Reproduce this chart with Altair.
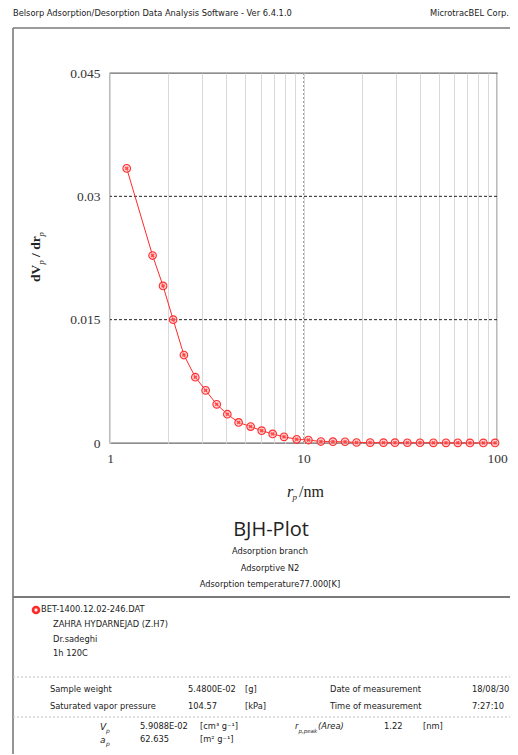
import altair as alt
import pandas as pd

# ---------------- chart values ----------------
pore_radius_nm = [1.22, 1.66, 1.88, 2.12, 2.41, 2.76, 3.12, 3.56, 4.04, 4.62,
                  5.33, 6.08, 6.93, 7.93, 9.22, 10.6, 12.3, 14.2, 16.4, 18.8,
                  22.1, 25.9, 29.7, 34.4, 40.0, 46.9, 54.5, 62.7, 72.5, 85.0, 97.7]
dvp_drp = [0.0334, 0.0228, 0.0191, 0.0150, 0.0107, 0.0080, 0.0064, 0.0047, 0.0035, 0.0025,
           0.0020, 0.0015, 0.0011, 0.00075, 0.00045, 0.00036, 0.00018, 0.00016, 0.00015, 0.00006,
           0.00005, 0.00004, 0.00004, 0.00003, 0.00003, 0.00002, 0.00002, 0.00002, 0.00001, 0.00001, 0.00001]

x_grid_values = [1, 2, 3, 4, 5, 6, 7, 8, 9, 10, 20, 30, 40, 50, 60, 70, 80, 90, 100]
x_label_values = [1, 10, 100]
y_tick_values = [0, 0.015, 0.03, 0.045]
y_dashed_grid = [0.015, 0.03]
x_dotted_grid = [10]

header_left = "Belsorp Adsorption/Desorption Data Analysis Software - Ver 6.4.1.0"
header_right = "MicrotracBEL Corp."
plot_title = "BJH-Plot"
subtitle_lines = ["Adsorption branch", "Adsorptive N2", "Adsorption temperature77.000[K]"]
file_name = "BET-1400.12.02-246.DAT"
comment_lines = ["ZAHRA HYDARNEJAD (Z.H7)", "Dr.sadeghi", "1h 120C"]
row1 = ["Sample weight", "5.4800E-02", "[g]", "Date of measurement", "18/08/30"]
row2 = ["Saturated vapor pressure", "104.57", "[kPa]", "Time of measurement", "7:27:10"]
vp_value, vp_unit = "5.9088E-02", "[cm\u00b3 g\u207b\u00b9]"
ap_value, ap_unit = "62.635", "[m\u00b2 g\u207b\u00b9]"
rpeak_value, rpeak_unit = "1.22", "[nm]"

df = pd.DataFrame({"r": pore_radius_nm, "v": dvp_drp})

# ---------------- layout helpers ----------------
OX, OY = 110, 73          # page position of the plot area's top-left corner
W, H = 387, 370
SVG_W, SVG_H = 502, 746
one = pd.DataFrame({"k": [0]})
SANS = "DejaVu Sans"
SERIF = "Liberation Serif"
SMALL = 8.3
INK = "#222222"


def txt(s, px, py, size=SMALL, font=SANS, align="left", baseline="middle",
        color=INK, style="normal", weight="normal", angle=0):
    return alt.Chart(pd.DataFrame({"t": [s]})).mark_text(
        align=align, baseline=baseline, font=font, fontSize=size,
        fontStyle=style, fontWeight=weight, color=color, angle=angle
    ).encode(text="t:N", x=alt.value(px - OX), y=alt.value(py - OY))


def rule(px1, px2, py1, py2, color="#7a7a7a", width=1.0, dash=None):
    kw = dict(color=color, strokeWidth=width)
    if dash:
        kw["strokeDash"] = dash
    return alt.Chart(one).mark_rule(**kw).encode(
        x=alt.value(px1 - OX), x2=alt.value(px2 - OX),
        y=alt.value(py1 - OY), y2=alt.value(py2 - OY))


xscale = alt.Scale(type="log", domain=[1, 100])
yscale = alt.Scale(domain=[0, 0.045], nice=False, zero=True)

label_expr = " || ".join(f"datum.value == {v}" for v in x_label_values)
x_axis = alt.Axis(values=x_grid_values, labelExpr=f"({label_expr}) ? format(datum.value, 'd') : ''",
                  grid=True, gridColor="#d9d9d9", gridWidth=1, ticks=False, domain=False,
                  labelFont=SERIF, labelFontSize=13.5, labelColor="#333", labelPadding=8,
                  labelFlush=False, labelOverlap=False, title=None)
y_axis = alt.Axis(values=y_tick_values,
                  labelExpr="datum.value == 0 ? '0' : format(datum.value, '.3~f')",
                  grid=False, ticks=False, domain=False,
                  labelFont=SERIF, labelFontSize=13.5, labelColor="#333", labelPadding=10,
                  labelOverlap=False, title=None)
X = alt.X("r:Q", scale=xscale, axis=x_axis)
Y = alt.Y("v:Q", scale=yscale, axis=y_axis)

# ---------------- frame ----------------
frame = [
    rule(13, 13, 28, 760, width=1.6),
    rule(13, 530, 28, 28, width=1.6),
    rule(13, 530, 597, 597, width=2.0),
    rule(13, 530, 677, 677, color="#bdbdbd", width=1, dash=[2, 2]),
    rule(13, 530, 717, 717, color="#bdbdbd", width=1, dash=[2, 2]),
]

# ---------------- plot ----------------
y_grid = alt.Chart(pd.DataFrame({"v": y_dashed_grid})).mark_rule(
    color="#222", strokeWidth=1, strokeDash=[3, 2]
).encode(y=Y)

x_dot = alt.Chart(pd.DataFrame({"r": x_dotted_grid})).mark_rule(
    color="#a0a0a0", strokeWidth=1, strokeDash=[2, 2]
).encode(x=X)

line = alt.Chart(df).mark_line(color="#ff2a2a", strokeWidth=1).encode(x=X, y=Y)
pts = alt.Chart(df).mark_point(
    shape="circle", filled=False, stroke="#ff3030", strokeWidth=1.1,
    fill="#ffb8b8", fillOpacity=0.6, size=58, opacity=1
).encode(x=X, y=Y)
crosses = alt.Chart(df).mark_point(
    shape="cross", filled=True, color="#ff3030", size=16, angle=45, opacity=0.8
).encode(x=X, y=Y)

# axis titles (pieces so that the subscripts can be drawn)
y_title = [
    txt("dV", 40, 282, size=13.5, font=SERIF, weight="bold", baseline="alphabetic", angle=270),
    txt("p", 43.5, 264.5, size=8.5, font=SERIF, style="italic", baseline="alphabetic", angle=270),
    txt("/ dr", 40, 257, size=13.5, font=SERIF, weight="bold", baseline="alphabetic", angle=270),
    txt("p", 43.5, 236.5, size=8.5, font=SERIF, style="italic", baseline="alphabetic", angle=270),
]
x_title = [
    txt("r", 287, 497, size=16, font=SERIF, style="italic", baseline="alphabetic"),
    txt("p", 292.5, 500, size=9, font=SERIF, style="italic", baseline="alphabetic"),
    txt("/nm", 299, 497, size=16, font=SERIF, baseline="alphabetic"),
]

# ---------------- texts ----------------
texts = [
    txt(header_left, 13, 14),
    txt(header_right, 509, 14, align="right"),
    txt(plot_title, 271, 530, size=20, font="Open Sans", align="center"),
    txt(subtitle_lines[0], 270, 552, align="center"),
    txt(subtitle_lines[1], 270, 569, align="center"),
    txt(subtitle_lines[2], 270, 585, align="center"),
    txt(file_name, 41, 610),
    txt(comment_lines[0], 53, 625),
    txt(comment_lines[1], 53, 640),
    txt(comment_lines[2], 53, 654),
]
for py, row in ((690, row1), (707, row2)):
    for px, s in zip((50, 188, 245, 330, 472), row):
        texts.append(txt(s, px, py))

R3, R4 = 727, 740
texts += [
    txt("V", 100, R3, style="italic", size=9),
    txt("p", 106, R3 + 4, style="italic", size=6),
    txt(vp_value, 140, R3),
    txt(vp_unit, 200, R3),
    txt("r", 295, R3, style="italic"),
    txt("p,peak", 298.5, R3 + 3.5, style="italic", size=5.5),
    txt("(Area)", 318, R3, style="italic"),
    txt(rpeak_value, 384, R3),
    txt(rpeak_unit, 423, R3),
    txt("a", 100, R4, style="italic", size=9),
    txt("p", 106, R4 + 3.5, style="italic", size=6),
    txt(ap_value, 140, R4),
    txt(ap_unit, 200, R4),
]

legend_sym = [
    alt.Chart(one).mark_point(shape="circle", filled=True, color="#ff2a2a", size=75, opacity=1)
    .encode(x=alt.value(36 - OX), y=alt.value(610 - OY)),
    alt.Chart(one).mark_point(shape="cross", filled=True, color="white", size=12, angle=45, opacity=1)
    .encode(x=alt.value(36 - OX), y=alt.value(610 - OY)),
]

chart = alt.layer(
    *frame, y_grid, x_dot, line, pts, crosses, *y_title, *x_title, *texts, *legend_sym
).properties(
    width=W, height=H,
    padding={"left": OX - 8, "top": OY - 8,
             "right": SVG_W - (OX - 8) - W, "bottom": SVG_H - (OY - 8) - H},
    autosize=alt.AutoSizeParams(type="none"),
).configure_view(stroke="#6a6a6a", strokeWidth=1.3)

chart.save("out.html", embed_options={"renderer": "svg", "actions": False})
